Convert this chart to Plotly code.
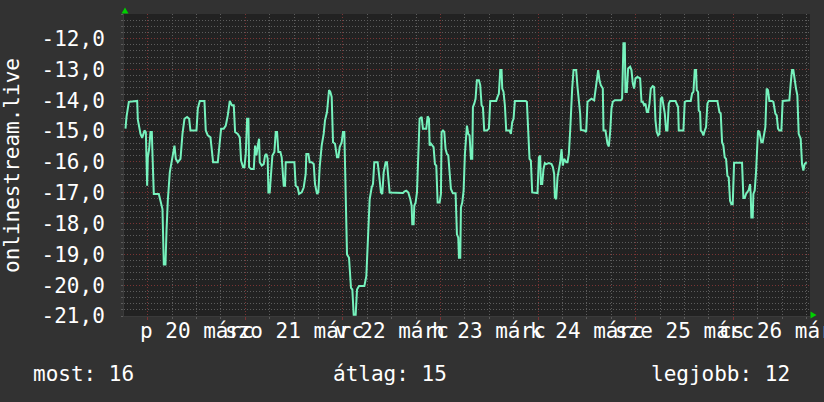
import pandas as pd
import plotly.graph_objects as go

# ---- data (hours relative to 2020-03-20 00:00, rank shown as negative value) ----
base = pd.Timestamp("2020-03-20 00:00")

hours = [
    -5.48, -5.23, -4.66, -2.61, -2.45, -1.96, -1.79, -1.38, -1.14, -0.81,
    -0.48, -0.32, -0.155, 0.01, 0.34, 0.66, 0.99, 1.16, 1.48, 2.71,
    3.12, 3.61, 3.94, 4.35, 4.60, 4.92, 5.41, 5.99, 6.56, 6.89,
    7.38, 8.04, 8.53, 9.02, 9.67, 10.17, 10.49, 11.97, 12.30, 12.79,
    13.93, 14.26, 14.75, 15.41, 16.06, 17.21, 17.70, 18.03, 18.68, 19.18,
    19.67, 20.16, 20.65, 21.14, 21.47, 22.12, 22.62, 22.94, 23.43, 23.76,
    24.09, 24.42, 24.75, 24.91, 25.40, 26.06, 26.38, 26.71, 27.04, 27.37,
    27.53, 28.02, 28.51, 28.84, 29.17, 29.49, 29.66, 29.98, 30.31, 30.64,
    31.13, 31.46, 31.79, 32.11, 32.61, 32.93, 33.43, 33.75, 33.92, 36.05,
    36.37, 36.87, 37.19, 37.85, 38.34, 38.83, 38.99, 39.49, 39.81, 40.31,
    40.80, 41.12, 41.62, 41.94, 42.27, 42.76, 43.25, 43.58, 44.07, 44.57,
    44.89, 45.22, 45.55, 46.04, 46.53, 46.86, 47.19, 47.68, 48.00, 48.33,
    48.50, 48.99, 49.48, 49.97, 50.30, 50.63, 51.12, 51.45, 51.94, 53.25,
    53.74, 54.23, 54.56, 55.05, 55.38, 55.70, 56.52, 56.85, 57.34, 57.67,
    58.00, 58.49, 58.82, 59.14, 59.47,
    62.75, 63.08, 63.57, 64.06, 64.55, 64.88, 65.04, 65.37, 65.53, 65.86,
    66.19, 66.52, 66.84, 67.34, 67.66, 68.48, 68.81, 69.14, 69.30, 69.63,
    69.96, 70.28, 70.61, 70.94, 71.27, 71.76, 72.09, 72.25, 72.58, 72.91,
    73.23, 73.56, 73.89, 74.22, 74.54, 75.03, 75.69, 76.02, 76.35, 76.51,
    76.84, 77.00, 77.33, 77.66, 77.98, 78.48, 78.80, 79.13, 79.46, 79.79,
    79.95, 80.28, 80.60, 80.93, 81.42, 81.75, 82.08, 82.41, 82.73, 83.39,
    83.88, 84.21, 85.68, 86.01, 86.34, 86.67, 86.99, 87.16, 87.48, 87.81,
    88.14, 88.96, 89.29, 89.61, 89.94, 90.27, 92.89, 93.22, 93.55, 93.87,
    94.20, 94.53,
    95.84, 96.17, 96.49, 96.66, 96.99, 97.31, 97.64, 97.97, 98.62, 99.28,
    99.61, 99.93, 100.10, 100.43, 100.75, 101.08, 101.41, 101.74, 102.06, 102.39,
    102.88, 103.21, 103.54, 103.87, 104.19, 104.36, 104.69, 105.34, 105.67, 106.00,
    106.32, 106.49, 107.31, 107.80, 108.13, 108.62, 109.11, 109.76, 110.09, 110.42,
    110.75, 111.07, 111.40, 111.89, 112.06, 112.55, 113.04, 113.37, 113.70, 114.02,
    114.35, 114.84, 116.32, 116.64, 116.97, 117.30, 117.46, 117.79, 118.12, 118.61,
    118.94, 119.27, 119.59, 119.92, 120.41, 121.07, 121.40, 121.72, 122.05, 122.38,
    122.71, 123.03, 123.36, 123.69, 124.18, 124.51, 124.84, 125.16, 125.49, 125.82,
    126.15, 126.47, 126.80, 127.13, 127.46, 127.78, 128.11, 128.44,
    129.75, 130.08, 130.40, 130.57, 131.71, 132.04, 132.53, 133.52, 133.84, 134.17,
    134.50, 134.83, 134.99, 135.32, 135.48, 135.81, 135.97, 136.30, 136.63, 136.96,
    137.28, 137.61, 137.94, 140.07, 140.56, 140.89, 141.22, 141.54, 141.87, 142.20,
    142.53, 142.85, 143.18, 143.51, 143.84, 144.17, 146.13, 146.46, 146.79, 147.11,
    147.44, 147.77, 148.10, 148.26, 148.42, 148.75, 148.92, 149.24, 149.57, 149.90,
    150.06, 150.39, 150.88, 151.21, 151.54, 151.86, 152.19, 152.52, 152.85, 153.50,
    153.83, 154.32, 154.65, 154.98, 155.30, 155.80, 156.12, 157.43, 157.76, 158.09,
    158.42, 158.74, 159.07, 159.40, 159.73, 160.06, 160.55, 160.88, 161.20, 161.53,
    162.02,
]

rank = [
    -14.92, -14.54, -14.05, -14.02, -14.63, -14.98, -15.09, -15.22, -15.09, -14.98,
    -15.03, -16.77, -16.77, -15.85, -15.58, -15.03, -15.03, -15.79, -17.04, -17.04,
    -17.26, -17.53, -19.33, -19.33, -18.24, -17.26, -16.34, -15.85, -15.47, -15.90,
    -16.01, -15.90, -15.09, -14.60, -14.54, -14.60, -14.98, -14.98, -14.27, -14.02,
    -14.02, -14.98, -15.14, -15.20, -16.01, -16.01, -15.47, -14.92, -14.92, -14.82,
    -14.49, -14.02, -14.16, -14.16, -15.03, -15.09, -15.20, -15.96, -16.17, -16.17,
    -15.74, -14.60, -14.60, -16.17, -16.23, -16.23, -15.47, -15.79, -15.47, -15.25,
    -16.01, -16.12, -16.07, -15.79, -15.74, -15.90, -16.99, -16.99, -16.39, -15.79,
    -15.68, -15.03, -15.03, -15.68, -15.68, -15.85, -16.77, -16.77, -16.01, -16.01,
    -16.77, -16.83, -17.04, -16.99, -16.83, -16.39, -15.74, -15.74, -16.01, -16.01,
    -16.07, -16.72, -17.04, -16.99, -16.17, -15.47, -15.09, -14.65, -14.38, -13.67,
    -13.73, -13.89, -15.36, -15.41, -15.85, -15.85, -15.52, -15.36, -15.03, -15.03,
    -16.07, -19.00, -19.11, -20.09, -20.14, -20.96, -20.96, -20.14, -20.03, -20.03,
    -19.71, -18.24, -17.21, -16.83, -16.72, -16.01, -16.01, -16.39, -16.99, -17.04,
    -16.34, -16.01, -16.01, -16.50, -16.99,
    -17.01, -16.96, -16.93, -16.99, -17.21, -17.42, -18.02, -18.02, -17.42, -17.32,
    -16.99, -15.79, -14.60, -14.54, -14.92, -14.92, -14.52, -14.60, -15.47, -15.41,
    -15.47, -15.52, -16.07, -16.12, -17.32, -17.32, -17.04, -15.03, -14.98, -15.03,
    -15.58, -15.74, -15.79, -16.50, -16.88, -17.02, -17.02, -18.35, -18.46, -19.11,
    -19.11, -17.48, -17.32, -16.93, -15.74, -14.82, -15.09, -15.14, -15.90, -15.90,
    -14.22, -14.11, -13.95, -13.35, -13.35, -13.51, -14.16, -14.22, -14.98, -14.98,
    -14.92, -14.02, -14.02, -13.89, -13.78, -13.02, -13.02, -13.62, -13.73, -14.16,
    -14.98, -14.98, -15.09, -14.71, -14.60, -14.02, -14.02, -14.05, -14.98, -15.90,
    -15.96, -16.99,
    -17.01, -15.85, -15.79, -16.72, -16.72, -16.23, -16.04, -16.07, -16.04, -16.07,
    -16.17, -16.39, -17.15, -17.21, -16.50, -16.28, -16.01, -15.58, -16.12, -15.90,
    -16.01, -16.01, -15.74, -14.98, -13.89, -13.62, -13.02, -13.02, -13.57, -14.00,
    -14.43, -14.96, -14.98, -15.03, -14.05, -14.00, -13.95, -14.00, -13.67, -13.46,
    -13.02, -13.35, -13.51, -13.62, -14.98, -14.98, -15.41, -15.50, -15.03, -14.27,
    -14.05, -14.00, -14.00, -13.95, -12.15, -12.15, -13.73, -13.73, -12.97, -12.91,
    -13.02, -13.46, -13.62, -13.29, -13.24, -13.29, -14.05, -14.05, -14.16, -14.11,
    -14.38, -14.38, -14.11, -13.62, -13.54, -13.57, -14.65, -15.03, -15.14, -15.09,
    -13.95, -13.89, -14.16, -14.43, -14.98, -14.98, -14.11, -14.02,
    -14.02, -14.16, -14.22, -14.98, -14.98, -14.05, -14.02, -14.02, -13.78, -13.73,
    -13.02, -13.02, -13.67, -13.73, -14.33, -14.38, -14.98, -15.03, -15.14, -14.98,
    -14.87, -14.11, -14.02, -14.02, -14.38, -14.43, -15.36, -15.47, -15.85, -15.90,
    -16.45, -16.50, -17.26, -17.37, -17.37, -16.03, -16.03, -17.17, -17.17, -17.04,
    -16.99, -16.91, -16.72, -17.04, -17.80, -17.80, -17.04, -16.93, -16.34, -15.58,
    -14.98, -15.03, -15.36, -15.36, -15.03, -14.87, -13.62, -13.67, -14.02, -14.02,
    -14.05, -14.43, -14.49, -14.92, -14.98, -14.98, -14.02, -14.02, -14.00, -13.46,
    -13.02, -13.02, -13.40, -13.62, -13.84, -15.09, -15.25, -16.07, -16.28, -16.07,
    -16.01,
]

y_ticks = [-21, -20, -19, -18, -17, -16, -15, -14, -13, -12]
y_tick_labels = ["-21,0", "-20,0", "-19,0", "-18,0", "-17,0", "-16,0",
                 "-15,0", "-14,0", "-13,0", "-12,0"]

day_noons = [12, 36, 60, 84, 108, 132, 156]
day_labels = ["p 20 márc", "szo 21 márc", "v 22 márc", "h 23 márc",
              "k 24 márc", "sze 25 márc", "cs 26 márc"]

title_text = "onlinestream.live"
legend_texts = ["most: 16", "átlag: 15", "legjobb: 12"]

range_hours = [-5.85, 162.84]
y_range = [-21, -11.2]

# ---- styling ----
W, H = 824, 402
L, R, T, B = 124, 14, 14, 86
PW, PH = W - L - R, H - T - B
FONT = "DejaVu Sans Mono"
FG = "#ffffff"
RED = "#7a3434"
GRAY = "#5c5c5c"
DASH = "1px,2px"


def px(x):
    return (x - L) / PW


def py(y):
    return (H - B - y) / PH


times = [base + pd.Timedelta(hours=h) for h in hours]

fig = go.Figure()
fig.add_trace(go.Scatter(
    x=times, y=rank, mode="lines",
    line=dict(color="#76f2bd", width=2),
    hoverinfo="skip",
))

annotations = []
for h, lab in zip(day_noons, day_labels):
    annotations.append(dict(
        x=base + pd.Timedelta(hours=h), y=py(331), xref="x", yref="paper",
        text=lab, showarrow=False, xanchor="center", yanchor="middle",
        font=dict(family=FONT, size=21, color=FG),
    ))

annotations.append(dict(
    x=px(12), y=py(166), xref="paper", yref="paper", text=title_text,
    textangle=-90, showarrow=False, xanchor="center", yanchor="middle",
    font=dict(family=FONT, size=21, color=FG),
))
for xleft, txt in zip([31, 331, 649], legend_texts):
    annotations.append(dict(
        x=px(xleft), y=py(374), xref="paper", yref="paper", text=txt,
        showarrow=False, xanchor="left", yanchor="middle",
        font=dict(family=FONT, size=21, color=FG),
    ))

shapes = [
    dict(type="path", xref="paper", yref="paper",
         path=f"M {px(125)} {py(7.5)} L {px(121.5)} {py(13.5)} L {px(128.5)} {py(13.5)} Z",
         fillcolor="#00d000", line=dict(width=0)),
    dict(type="path", xref="paper", yref="paper",
         path=f"M {px(816.5)} {py(315)} L {px(810.5)} {py(311.5)} L {px(810.5)} {py(318.5)} Z",
         fillcolor="#00d000", line=dict(width=0)),
]

fig.update_layout(
    width=W, height=H,
    margin=dict(l=L, r=R, t=T, b=B, pad=0),
    paper_bgcolor="#323232",
    plot_bgcolor="#222222",
    showlegend=False,
    annotations=annotations,
    shapes=shapes,
    xaxis=dict(
        type="date",
        range=[base + pd.Timedelta(hours=range_hours[0]),
               base + pd.Timedelta(hours=range_hours[1])],
        tickmode="linear", tick0="2020-03-20", dtick=86400000,
        showticklabels=False,
        showgrid=True, gridcolor=RED, griddash=DASH, gridwidth=1,
        ticks="outside", ticklen=3, tickcolor=RED,
        minor=dict(tickmode="linear", dtick=6 * 3600000, showgrid=True,
                   gridcolor=GRAY, griddash=DASH, gridwidth=1,
                   ticks="outside", ticklen=2, tickcolor=GRAY),
        zeroline=False, showline=True, linecolor="#3a3a3a", linewidth=1,
        fixedrange=True,
    ),
    yaxis=dict(
        range=y_range,
        tickmode="array", tickvals=y_ticks, ticktext=y_tick_labels,
        tickfont=dict(family=FONT, size=21, color=FG),
        ticklabelstandoff=14,
        showgrid=True, gridcolor=RED, griddash=DASH, gridwidth=1,
        ticks="",
        minor=dict(tickmode="linear", tick0=-21, dtick=0.2, showgrid=True,
                   gridcolor=GRAY, griddash=DASH, gridwidth=1,
                   ticks="outside", ticklen=2, tickcolor=GRAY),
        zeroline=False, showline=True, linecolor="#3a3a3a", linewidth=1,
        fixedrange=True,
    ),
)

fig.write_html(
    "out.html",
    config={"displayModeBar": False, "staticPlot": True},
    post_script="document.body.style.margin='0';document.body.style.background='#323232';",
)
